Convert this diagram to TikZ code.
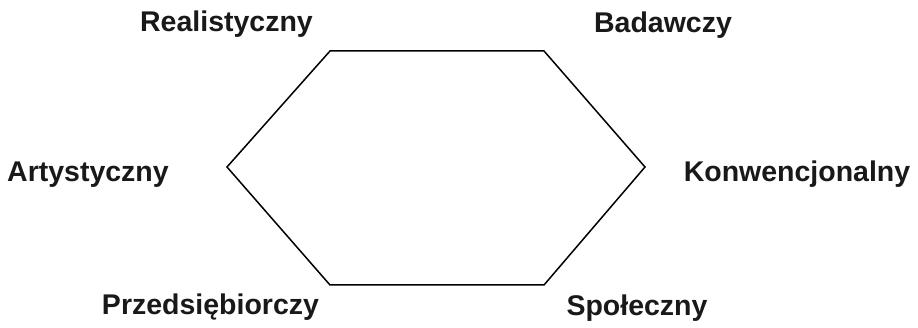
\documentclass[tikz,border=0pt]{standalone}
\usepackage{fontspec}
\setmainfont{Liberation Sans}
\begin{document}
\begin{tikzpicture}[x=1pt,y=-1pt,
  lbl/.style={anchor=base,inner sep=0pt,font=\fontsize{28.5}{33}\selectfont\bfseries,text=black!90},
  hex/.style={draw=black,line width=1.5pt,line join=miter}]
\useasboundingbox (0,0) rectangle (918,328);
\coordinate (tl) at (330,51);
\coordinate (tr) at (544,51);
\coordinate (r) at (645,167);
\coordinate (br) at (544,285);
\coordinate (bl) at (330,285);
\coordinate (l) at (227,167);
\draw[hex] (tl) -- (tr) -- (r) -- (br) -- (bl) -- (l) -- cycle;
\node[lbl] (real) at (226.5,32) {Realistyczny};
\node[lbl] (bad) at (663,33) {Badawczy};
\node[lbl] (art) at (88,182) {Artystyczny};
\node[lbl] (konw) at (797,182) {Konwencjonalny};
\node[lbl] (przed) at (210.5,315) {Przedsiębiorczy};
\node[lbl] (spol) at (637,316) {Społeczny};
\end{tikzpicture}
\end{document}
